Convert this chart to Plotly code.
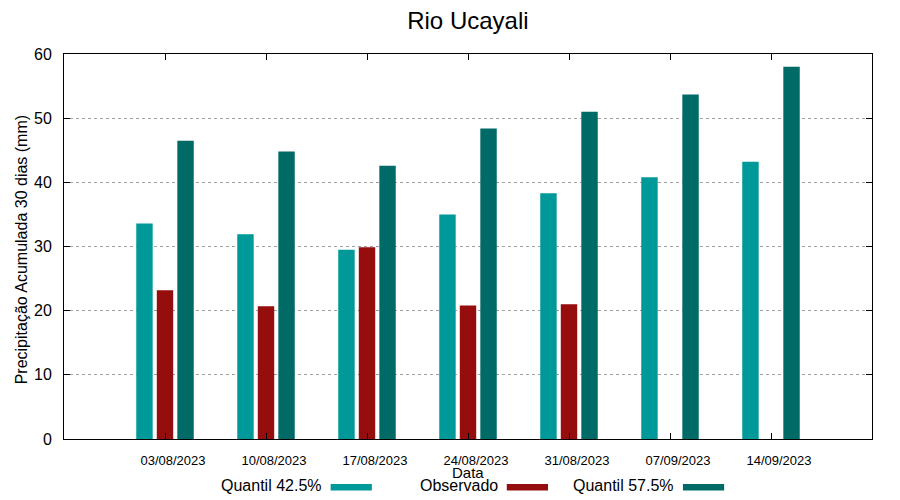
import plotly.graph_objects as go

datas = ["03/08/2023", "10/08/2023", "17/08/2023", "24/08/2023",
         "31/08/2023", "07/09/2023", "14/09/2023"]
quantil_425 = [33.6, 31.9, 29.5, 35.0, 38.3, 40.8, 43.2]
observado = [23.2, 20.7, 29.9, 20.8, 21.0, None, None]
quantil_575 = [46.5, 44.8, 42.6, 48.4, 51.0, 53.7, 58.0]

series_names = ["Quantil 42.5%", "Observado", "Quantil 57.5%"]
series_colors = ["#009999", "#950d0d", "#006a66"]
series_values = [quantil_425, observado, quantil_575]

FONT = "Liberation Sans, Arial, sans-serif"

fig = go.Figure()
for name, color, vals in zip(series_names, series_colors, series_values):
    fig.add_trace(go.Bar(x=datas, y=vals, name=name,
                         marker=dict(color=color, line=dict(width=0)),
                         showlegend=False))

# custom gnuplot-style legend: text then swatch
legend_text_x = [0.322, 0.540, 0.758]
legend_sw_x0 = [0.330, 0.548, 0.766]
sw_w = 0.051
leg_y = -0.121
for name, color, tx, sx in zip(series_names, series_colors, legend_text_x, legend_sw_x0):
    fig.add_annotation(x=tx, y=leg_y, xref="paper", yref="paper", text=name,
                       showarrow=False, xanchor="right", yanchor="middle",
                       font=dict(family=FONT, size=16, color="#000000"))
    fig.add_shape(type="rect", xref="paper", yref="paper",
                  x0=sx, x1=sx + sw_w, y0=-0.117, y1=-0.134,
                  fillcolor=color, line=dict(width=0))

# x-axis title
fig.add_annotation(x=0.5, y=-0.088, xref="paper", yref="paper", text="Data",
                   showarrow=False, xanchor="center", yanchor="middle",
                   font=dict(family=FONT, size=15, color="#000000"))
# y-axis title
fig.add_annotation(x=-0.0532, y=0.49, xref="paper", yref="paper",
                   text="Precipitação Acumulada 30 dias (mm)", textangle=-90,
                   showarrow=False, xanchor="center", yanchor="middle",
                   font=dict(family=FONT, size=16, color="#000000"))

fig.update_layout(
    width=900, height=500,
    margin=dict(l=56, r=36, t=46, b=69),
    paper_bgcolor="white", plot_bgcolor="white",
    barmode="group", bargap=0.39, bargroupgap=0.2,
    font=dict(family=FONT, color="#000000"),
    title=dict(text="Rio Ucayali", x=0.511, xanchor="center", y=0.975, yanchor="middle",
               font=dict(family=FONT, size=24, color="#000000")),
    xaxis=dict(
        type="category", range=[-1, 7], automargin=False,
        showline=True, linecolor="black", linewidth=1, mirror="ticks",
        ticks="inside", ticklen=6, tickcolor="black",
        showgrid=False, zeroline=False,
        tickfont=dict(family=FONT, size=13, color="#000000"),
        ticklabelstandoff=9, ticklabelshift=8,
    ),
    yaxis=dict(
        range=[0, 60], dtick=10, automargin=False,
        showline=True, linecolor="black", linewidth=1, mirror="ticks",
        ticks="inside", ticklen=6, tickcolor="black",
        showgrid=True, gridcolor="#a0a0a0", gridwidth=1, griddash="dot",
        zeroline=False,
        tickfont=dict(family=FONT, size=16, color="#000000"),
        ticklabelstandoff=8,
    ),
)

fig.write_html("out.html")
